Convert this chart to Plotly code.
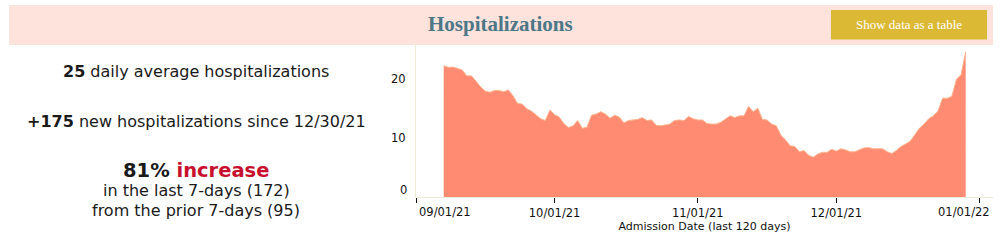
import plotly.graph_objects as go
import pandas as pd

# ---------------- data ----------------
start_date = "2021-09-07"
daily_avg = [22.3, 22.05, 22.1, 21.8, 21.6, 20.6, 20.6, 19.7, 18.7, 18.0,
             17.8, 18.1, 18.1, 17.9, 18.2, 17.2, 15.9, 15.8, 15.0, 14.6,
             14.0, 13.3, 13.0, 14.8, 14.0, 13.6, 12.5, 11.8, 12.1, 13.0,
             11.7, 11.85, 13.9, 14.1, 14.5, 14.1, 13.4, 13.9, 13.6, 12.6,
             13.0, 13.1, 13.2, 13.5, 13.0, 13.1, 12.2, 12.1, 12.2, 12.4,
             13.0, 13.1, 13.0, 13.7, 13.3, 13.1, 13.1, 12.5, 12.4, 12.4,
             12.7, 13.3, 13.8, 13.5, 13.8, 13.8, 15.4, 14.5, 15.1, 13.2,
             13.1, 12.4, 12.1, 10.5, 9.7, 8.7, 8.6, 7.7, 7.9, 7.1,
             6.75, 7.3, 7.6, 7.6, 8.1, 7.8, 8.2, 8.0, 7.7, 7.7,
             8.0, 8.35, 8.4, 8.2, 8.2, 8.2, 7.7, 7.4, 7.9, 8.6,
             9.0, 9.5, 10.6, 11.7, 12.4, 13.3, 13.8, 14.6, 16.8, 16.8,
             17.1, 20.0, 20.8, 24.7]
dates = pd.date_range(start_date, periods=len(daily_avg), freq="D")

x_tick_vals = ["2021-09-01", "2021-10-01", "2021-11-01", "2021-12-01", "2022-01-01"]
x_tick_text = ["09/01/21", "10/01/21", "11/01/21", "12/01/21", "01/01/22"]
y_tick_vals = [0, 10, 20]
y_tick_text = ["0", "10", "20"]

title_text = "Hospitalizations"
button_text = "Show data as a table"
stat_avg = "25"
stat_new = "+175"
stat_since = "12/30/21"
stat_pct = "81%"
stat_last7 = 172
stat_prior7 = 95
x_title = "Admission Date (last 120 days)"

# ---------------- layout helpers ----------------
W, H = 1000, 241
PL, PR, PT, PB = 416, 993, 45, 197  # plot area in px


def px_x(px):
    return (px - PL) / (PR - PL)


def px_y(py):
    return (PB - py) / (PB - PT)


FONT = "DejaVu Sans, Verdana, sans-serif"
SERIF = "Liberation Serif, Times New Roman, serif"

fig = go.Figure()
fig.add_trace(go.Scatter(
    x=dates, y=daily_avg, mode="lines", fill="tozeroy",
    line=dict(color="#ffb48f", width=1),
    fillcolor="#ff8c72", hoverinfo="skip", showlegend=False,
))

shapes = [
    dict(type="rect", xref="paper", yref="paper",
         x0=px_x(9), x1=px_x(993), y0=px_y(45), y1=px_y(5),
         fillcolor="#fee3dd", line=dict(width=0), layer="below"),
    dict(type="rect", xref="paper", yref="paper",
         x0=px_x(831), x1=px_x(987), y0=px_y(39.5), y1=px_y(10),
         fillcolor="#dcb935", line=dict(width=0), layer="above"),
]

ann = []
ann.append(dict(text=f"<b>{title_text}</b>", xref="paper", yref="paper",
                x=px_x(500.5), y=px_y(24.5), xanchor="center", yanchor="middle",
                showarrow=False, font=dict(family=SERIF, size=21, color="#4d7687")))
ann.append(dict(text=button_text, xref="paper", yref="paper",
                x=px_x(909), y=px_y(24.5), xanchor="center", yanchor="middle",
                showarrow=False, font=dict(family=SERIF, size=13, color="#ffffff")))

cx = px_x(196)
txt_color = "#1a1a1a"
ann.append(dict(text=f"<b>{stat_avg}</b> daily average hospitalizations",
                xref="paper", yref="paper", x=cx, y=px_y(71.5),
                xanchor="center", yanchor="middle", showarrow=False,
                font=dict(family=FONT, size=16, color=txt_color)))
ann.append(dict(text=f"<b>{stat_new}</b> new hospitalizations since {stat_since}",
                xref="paper", yref="paper", x=cx, y=px_y(121),
                xanchor="center", yanchor="middle", showarrow=False,
                font=dict(family=FONT, size=16, color=txt_color)))
ann.append(dict(text=f"<b>{stat_pct} <span style='color:#c8102e'>increase</span></b>",
                xref="paper", yref="paper", x=cx, y=px_y(170),
                xanchor="center", yanchor="middle", showarrow=False,
                font=dict(family=FONT, size=19.5, color=txt_color)))
ann.append(dict(text=f"in the last 7-days ({stat_last7})",
                xref="paper", yref="paper", x=cx, y=px_y(190.5),
                xanchor="center", yanchor="middle", showarrow=False,
                font=dict(family=FONT, size=16, color=txt_color)))
ann.append(dict(text=f"from the prior 7-days ({stat_prior7})",
                xref="paper", yref="paper", x=cx, y=px_y(210),
                xanchor="center", yanchor="middle", showarrow=False,
                font=dict(family=FONT, size=16, color=txt_color)))

# end tick labels, aligned inward like the reference
ann.append(dict(text=x_tick_text[0], xref="x", yref="paper", x=x_tick_vals[0], y=0,
                xanchor="left", yanchor="top", xshift=1, yshift=-6, showarrow=False,
                font=dict(family=FONT, size=11.5, color="#111")))
ann.append(dict(text=x_tick_text[-1], xref="x", yref="paper", x=x_tick_vals[-1], y=0,
                xanchor="right", yshift=-6, xshift=12, yanchor="top", showarrow=False,
                font=dict(family=FONT, size=11.5, color="#111")))
# the zero label sits slightly above the baseline in the reference
ann.append(dict(text=y_tick_text[0], xref="paper", yref="y", x=0, y=y_tick_vals[0],
                xanchor="right", yanchor="middle", xshift=-7, yshift=7, showarrow=False,
                font=dict(family=FONT, size=11.5, color="#111")))

mid_text = [""] + x_tick_text[1:-1] + [""]
y_text = [""] + y_tick_text[1:]

fig.update_layout(
    width=W, height=H,
    margin=dict(l=PL, r=W - PR, t=PT, b=H - PB),
    paper_bgcolor="white", plot_bgcolor="white",
    shapes=shapes, annotations=ann,
    hovermode=False,
    xaxis=dict(
        type="date", range=["2021-09-01", "2022-01-03 22:00"],
        tickvals=x_tick_vals, ticktext=mid_text,
        ticks="outside", ticklen=5, tickcolor="#111", tickwidth=1,
        showgrid=False, zeroline=False,
        showline=True, linecolor="#efecd9", linewidth=1,
        tickfont=dict(family=FONT, size=11.5, color="#111"),
        title=dict(text=x_title, standoff=3,
                   font=dict(family=FONT, size=11, color="#111")),
        fixedrange=True,
    ),
    yaxis=dict(
        range=[0, 25.85], tickvals=y_tick_vals, ticktext=y_text,
        ticks="", showgrid=False, zeroline=False,
        showline=True, linecolor="#efecd9", linewidth=1,
        ticklabelstandoff=7,
        tickfont=dict(family=FONT, size=11.5, color="#111"),
        fixedrange=True,
    ),
)

fig.write_html("out.html", config={"displayModeBar": False})
